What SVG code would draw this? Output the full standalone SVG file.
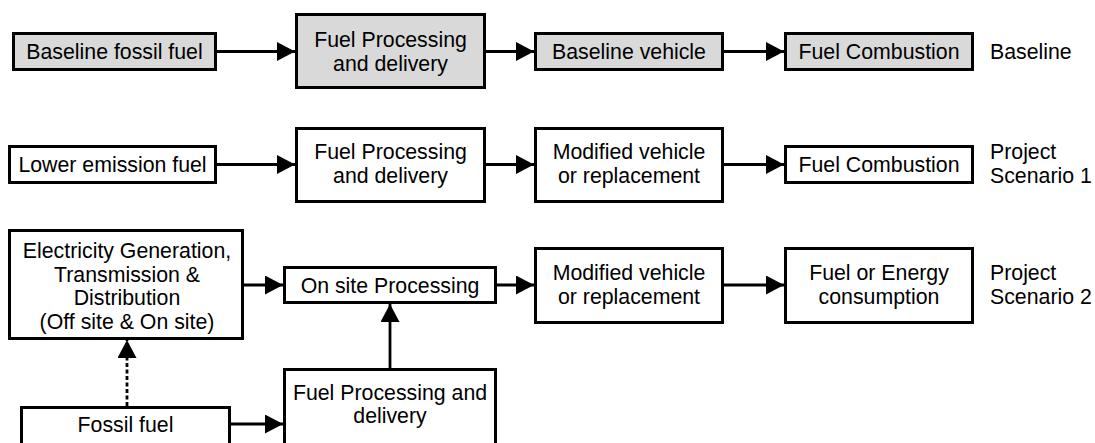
<svg xmlns="http://www.w3.org/2000/svg" width="1095" height="443" viewBox="0 0 1095 443">
<defs>
<style>
.box{fill:#ffffff;stroke:#000000;stroke-width:3}
.gray{fill:#d9d9d9}
.t{font-family:"Liberation Sans",Arial,sans-serif;font-size:21.3px;fill:#000000;text-anchor:middle}
.lbl{font-family:"Liberation Sans",Arial,sans-serif;font-size:21.3px;fill:#000000;text-anchor:start}
.ln{fill:none;stroke:#000000;stroke-width:2.8;marker-end:url(#ah)}
.dash{stroke-dasharray:4 2.5}
</style>
<marker id="ah" markerUnits="userSpaceOnUse" markerWidth="18" markerHeight="19" viewBox="0 0 18 19" refX="18" refY="9.5" orient="auto">
<path d="M0,0 L18,9.5 L0,19 Z" fill="#000000"/>
</marker>
</defs>
<rect width="1095" height="443" fill="#ffffff"/>

<g id="connectors">
<line class="ln" x1="217" y1="51.5" x2="295" y2="51.5"/>
<line class="ln" x1="486" y1="51.5" x2="534" y2="51.5"/>
<line class="ln" x1="724" y1="51.5" x2="784" y2="51.5"/>
<line class="ln" x1="217" y1="164.5" x2="295" y2="164.5"/>
<line class="ln" x1="486" y1="164.5" x2="534" y2="164.5"/>
<line class="ln" x1="724" y1="164.5" x2="784" y2="164.5"/>
<line class="ln" x1="244" y1="285" x2="283" y2="285"/>
<line class="ln" x1="497" y1="285" x2="534" y2="285"/>
<line class="ln" x1="724" y1="285" x2="784" y2="285"/>
<line class="ln" x1="231" y1="424" x2="283" y2="424"/>
<line class="ln" x1="390" y1="368" x2="390" y2="304"/>
<line class="ln dash" x1="127" y1="406" x2="127" y2="340"/>
</g>

<g id="n-baseline-fossil">
<rect class="box gray" x="13.5" y="33.5" width="202" height="36"/>
<text class="t" x="114.5" y="59">Baseline fossil fuel</text>
</g>
<g id="n-fuel-proc-1">
<rect class="box gray" x="296.5" y="14.5" width="188" height="73"/>
<text class="t" x="390.5" y="46.5">Fuel Processing</text>
<text class="t" x="390.5" y="70.5">and delivery</text>
</g>
<g id="n-baseline-vehicle">
<rect class="box gray" x="535.5" y="33.5" width="187" height="36"/>
<text class="t" x="629" y="59">Baseline vehicle</text>
</g>
<g id="n-fuel-comb-1">
<rect class="box gray" x="785.5" y="33.5" width="187" height="36"/>
<text class="t" x="879" y="59">Fuel Combustion</text>
</g>
<g id="l-baseline">
<text class="lbl" x="990" y="59">Baseline</text>
</g>

<g id="n-lower-emission">
<rect class="box" x="9.5" y="146.5" width="206" height="36"/>
<text class="t" x="112.5" y="171.5">Lower emission fuel</text>
</g>
<g id="n-fuel-proc-2">
<rect class="box" x="296.5" y="128.5" width="188" height="73"/>
<text class="t" x="390.5" y="158.5">Fuel Processing</text>
<text class="t" x="390.5" y="182.5">and delivery</text>
</g>
<g id="n-modified-1">
<rect class="box" x="535.5" y="128.5" width="187" height="73"/>
<text class="t" x="629" y="158.5">Modified vehicle</text>
<text class="t" x="629" y="182.5">or replacement</text>
</g>
<g id="n-fuel-comb-2">
<rect class="box" x="785.5" y="146.5" width="187" height="36"/>
<text class="t" x="879" y="171.5">Fuel Combustion</text>
</g>
<g id="l-scenario-1">
<text class="lbl" x="990" y="158.5">Project</text>
<text class="lbl" x="990" y="182.5">Scenario 1</text>
</g>

<g id="n-electricity">
<rect class="box" x="9.5" y="230.5" width="233" height="108"/>
<text class="t" x="127" y="258">Electricity Generation,</text>
<text class="t" x="127" y="281.7">Transmission &amp;</text>
<text class="t" x="127" y="305.4">Distribution</text>
<text class="t" x="127" y="329">(Off site &amp; On site)</text>
</g>
<g id="n-onsite">
<rect class="box" x="284.5" y="267.5" width="211" height="35"/>
<text class="t" x="390" y="292.5">On site Processing</text>
</g>
<g id="n-modified-2">
<rect class="box" x="535.5" y="248.5" width="187" height="74"/>
<text class="t" x="629" y="280">Modified vehicle</text>
<text class="t" x="629" y="304">or replacement</text>
</g>
<g id="n-fuel-energy">
<rect class="box" x="785.5" y="248.5" width="187" height="74"/>
<text class="t" x="879" y="280">Fuel or Energy</text>
<text class="t" x="879" y="304">consumption</text>
</g>
<g id="l-scenario-2">
<text class="lbl" x="990" y="280">Project</text>
<text class="lbl" x="990" y="304">Scenario 2</text>
</g>
<g id="n-fuel-proc-3">
<rect class="box" x="284.5" y="369.5" width="211" height="90"/>
<text class="t" x="390" y="400">Fuel Processing and</text>
<text class="t" x="390" y="423">delivery</text>
</g>
<g id="n-fossil">
<rect class="box" x="21.5" y="407.5" width="208" height="60"/>
<text class="t" x="125.5" y="431.5">Fossil fuel</text>
</g>
</svg>
